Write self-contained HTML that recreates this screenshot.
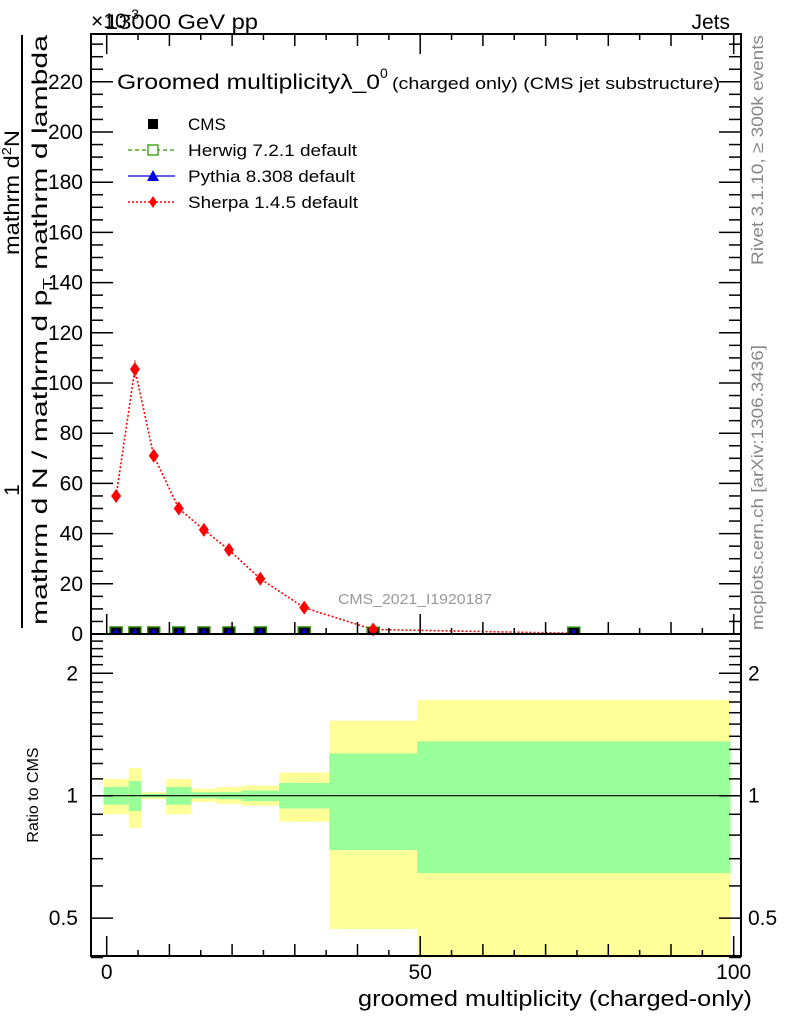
<!DOCTYPE html>
<html><head><meta charset="utf-8"><style>
html,body{margin:0;padding:0;background:#fff;}
svg{display:block;font-family:"Liberation Sans",sans-serif;}
</style></head><body>
<svg id="c" width="786" height="1024" viewBox="0 0 786 1024" xmlns="http://www.w3.org/2000/svg">
<g id="bands"></g>
<g id="marks"></g>
<g id="axes"></g>
<text x="91" y="28" font-size="21">×10<tspan font-size="14" dy="-9">-3</tspan></text>
<text x="105" y="29" font-size="21" textLength="153" lengthAdjust="spacingAndGlyphs">13000 GeV pp</text>
<text x="730" y="29" font-size="21" text-anchor="end">Jets</text>
<text x="117" y="89" font-size="21" textLength="263" lengthAdjust="spacingAndGlyphs">Groomed multiplicityλ_0</text>
<text x="380" y="78" font-size="14">0</text>
<text x="392" y="89" font-size="17" textLength="328" lengthAdjust="spacingAndGlyphs">(charged only) (CMS jet substructure)</text>
<text x="338" y="604" font-size="15" fill="#999" textLength="154" lengthAdjust="spacingAndGlyphs">CMS_2021_I1920187</text>
<text transform="translate(763,265) rotate(-90)" font-size="17" fill="#888" textLength="230" lengthAdjust="spacingAndGlyphs">Rivet 3.1.10, ≥ 300k events</text>
<text transform="translate(763,630) rotate(-90)" font-size="17" fill="#888" textLength="285" lengthAdjust="spacingAndGlyphs">mcplots.cern.ch [arXiv:1306.3436]</text>
<line x1="22" y1="35" x2="22" y2="628" stroke="#000" stroke-width="2"/>
<text transform="translate(19,255) rotate(-90)" font-size="21" textLength="125" lengthAdjust="spacingAndGlyphs">mathrm d<tspan font-size="13" dy="-8">2</tspan><tspan dy="8">N</tspan></text>
<text transform="translate(19,490) rotate(-90)" font-size="21" text-anchor="middle">1</text>
<text transform="translate(47,625) rotate(-90)" font-size="21" textLength="590" lengthAdjust="spacingAndGlyphs">mathrm d N / mathrm d p<tspan font-size="13" dy="5">T</tspan><tspan dy="-5"> mathrm d lambda</tspan></text>
<text transform="translate(38,795) rotate(-90)" font-size="16" text-anchor="middle">Ratio to CMS</text>
<text x="752" y="1006" font-size="22" text-anchor="end" textLength="394" lengthAdjust="spacingAndGlyphs">groomed multiplicity (charged-only)</text>
<g>
<rect x="148" y="119" width="10" height="10" fill="#000"/>
<text x="188" y="130" font-size="17">CMS</text>
<line x1="128" y1="150" x2="175" y2="150" stroke="#2a9a00" stroke-width="1.2" stroke-dasharray="4,3"/>
<rect x="148" y="145" width="10" height="10" fill="#fff" stroke="#2a9a00" stroke-width="1.3"/>
<text x="188" y="156" font-size="17" textLength="169" lengthAdjust="spacingAndGlyphs">Herwig 7.2.1 default</text>
<line x1="128" y1="176" x2="175" y2="176" stroke="#0000dd" stroke-width="1.2"/>
<polygon points="153,170 159,181 147,181" fill="#0000dd"/>
<text x="188" y="182" font-size="17" textLength="167" lengthAdjust="spacingAndGlyphs">Pythia 8.308 default</text>
<line x1="128" y1="202" x2="175" y2="202" stroke="#f00" stroke-width="1.5" stroke-dasharray="2,2"/>
<polygon points="153,196 157,202 153,208 149,202" fill="#f00"/>
<text x="188" y="208" font-size="17" textLength="170" lengthAdjust="spacingAndGlyphs">Sherpa 1.4.5 default</text>
</g>
</svg>
<script>
var binEdges=[-0.5,3.5,5.5,9.5,13.5,17.5,21.5,27.5,35.5,49.5,99.5];
var binCenters=[1.5,4.5,7.5,11.5,15.5,19.5,24.5,31.5,42.5,74.5];
var cmsValues=[0.4,0.4,0.4,0.4,0.4,0.4,0.4,0.4,0.3,0.3];
var sherpaValues=[55,105.5,71,50,41.5,33.5,22,10.5,1.8,0.3];
var yellowHi=[1.10,1.17,1.02,1.10,1.04,1.05,1.06,1.14,1.53,1.72];
var yellowLo=[0.90,0.834,0.98,0.90,0.965,0.955,0.945,0.863,0.47,0.3];
var greenHi=[1.05,1.087,1.01,1.05,1.02,1.02,1.03,1.075,1.27,1.36];
var greenLo=[0.95,0.917,0.99,0.95,0.985,0.98,0.97,0.93,0.735,0.645];
var yTickLabels=[0,20,40,60,80,100,120,140,160,180,200,220];
var xTickLabels=[0,50,100];
var rTickLabels=[0.5,1,2];

var NS="http://www.w3.org/2000/svg";
var L=91,R=741,T=34,MB=634,RB=956;
function X(v){return 106.7+(v)*6.27;}
function Y(v){return 634-v*2.51;}
function RY(v){return 795.7-Math.log(v)/Math.LN2*122.4;}
function mk(tag,attrs,parent){var e=document.createElementNS(NS,tag);for(var k in attrs)e.setAttribute(k,attrs[k]);parent.appendChild(e);return e;}
var bands=document.getElementById('bands'),marks=document.getElementById('marks'),axes=document.getElementById('axes');
function clampR(v){return Math.max(0.4,Math.min(2.5,v));}
for(var i=0;i<binCenters.length;i++){
  var x0=X(binEdges[i]),x1=Math.min(X(binEdges[i+1]),R);
  var y=mk('rect',{x:x0,y:RY(clampR(yellowHi[i])),width:x1-x0,height:RY(clampR(yellowLo[i]))-RY(clampR(yellowHi[i])),fill:'#ffff99'},bands);
  
  
  var g=mk('rect',{x:x0,y:RY(greenHi[i]),width:x1-x0,height:RY(greenLo[i])-RY(greenHi[i]),fill:'#99ff99'},bands);
  
  
}
var one=mk('line',{x1:L,x2:R,y1:RY(1),y2:RY(1),stroke:'#000','stroke-width':1.2},bands);


var pts=[];for(var i=0;i<binCenters.length;i++)pts.push(X(binCenters[i])+','+Y(sherpaValues[i]));
var sl=mk('polyline',{points:pts.join(' '),fill:'none',stroke:'#f00','stroke-width':1.6,'stroke-dasharray':'2,2'},marks);


for(var i=0;i<binCenters.length;i++){
  var cx=X(binCenters[i]),cy=Y(cmsValues[i]);
  var h=mk('rect',{x:cx-6,y:cy-6,width:12,height:7,fill:'#000',stroke:'#2a8a00','stroke-width':1.5},marks);
  
  
  var p=mk('polygon',{points:(cx)+','+(cy-5)+' '+(cx+3)+','+(cy)+' '+(cx-3)+','+(cy),fill:'#0000dd'},marks);
  
  
  if(i<binCenters.length-1){
  var sy=Y(sherpaValues[i]);
  var s=mk('polygon',{points:cx+','+(sy-7)+' '+(cx+5)+','+sy+' '+cx+','+(sy+7)+' '+(cx-5)+','+sy,fill:'#f00'},marks);
  
  
  }
}
var eb=mk('line',{x1:X(binCenters[1]),x2:X(binCenters[1]),y1:Y(109),y2:Y(102),stroke:'#f00','stroke-width':1},marks);


var f1=mk('rect',{x:L,y:T,width:R-L,height:MB-T,fill:'none',stroke:'#000','stroke-width':2},axes);


var f2=mk('rect',{x:L,y:MB,width:R-L,height:RB-MB,fill:'none',stroke:'#000','stroke-width':2},axes);


function tick(x1,y1,x2,y2){mk('line',{x1:x1,y1:y1,x2:x2,y2:y2,stroke:'#000','stroke-width':1.5},axes);}
for(var v=0;v<=235;v+=5){var yy=Y(v);if(yy<T)break;var len=(v%20==0)?22:12;tick(L,yy,L+len,yy);tick(R,yy,R-len,yy);}
yTickLabels.forEach(function(v){var t=mk('text',{x:83,y:Y(v)+7,'font-size':21,'text-anchor':'end'},axes);t.textContent=v;

});
for(var v=0;v<=100;v+=5){var xx=X(v);var len=(v%50==0)?20:(v%10==0?12:6);tick(xx,MB,xx,MB-len);tick(xx,T,xx,T+len);tick(xx,RB,xx,RB-len);}
xTickLabels.forEach(function(v){var t=mk('text',{x:X(v),y:979,'font-size':21,'text-anchor':'middle'},axes);t.textContent=v;

});
for(var k=4;k<=25;k++){var v=k/10;var maj=(k==5||k==10||k==20);var len=maj?22:12;var yy=RY(v);tick(L,yy,L+len,yy);tick(R,yy,R-len,yy);}
rTickLabels.forEach(function(v){var t=mk('text',{x:78,y:RY(v)+7,'font-size':21,'text-anchor':'end'},axes);t.textContent=v;


var t2=mk('text',{x:748,y:RY(v)+7,'font-size':21},axes);t2.textContent=v;

});
</script>
</body></html>
